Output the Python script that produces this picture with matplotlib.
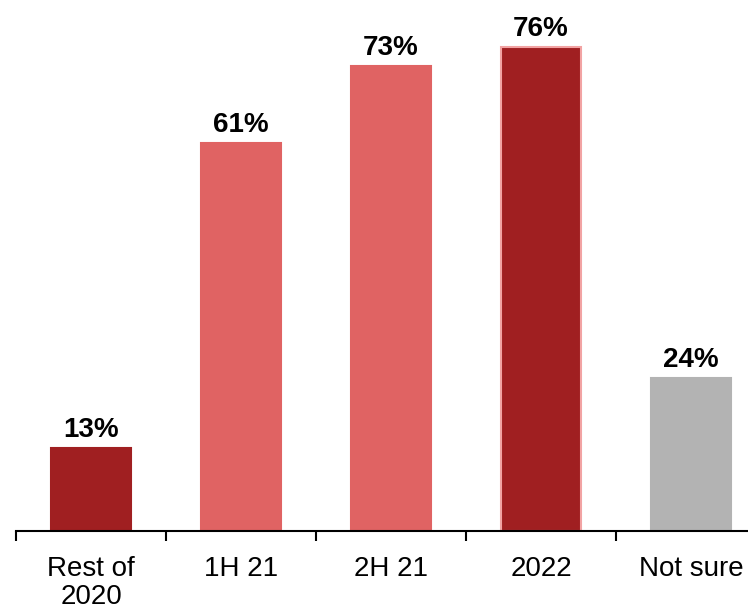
import matplotlib.pyplot as plt
import numpy as np

categories = ["Rest of\n2020", "1H 21", "2H 21", "2022", "Not sure"]
values = [13, 61, 73, 76, 24]
colors = ["#a01f21", "#e06363", "#e06363", "#a01f21", "#b3b3b3"]
edges = ["#a01f21", "#e06363", "#e06363", "#f2a3a3", "#b3b3b3"]

plt.rcParams['font.family'] = ['Liberation Sans', 'DejaVu Sans']

fig = plt.figure(figsize=(7.48, 6.10), dpi=100)
# axes runs off the right edge so the last category is cut like the source layout
ax = fig.add_axes([16 / 748, 79 / 610, 750 / 748, 531 / 610])

x = np.arange(len(categories))
bars = ax.bar(x, values, width=0.535, color=colors, edgecolor=edges, linewidth=1.5)

for xi, v in zip(x, values):
    ax.annotate(f"{v}%", (xi, v), xytext=(0, 3.5), textcoords="offset points",
                ha="center", va="bottom", fontsize=20, fontweight="bold")

ax.set_xlim(-0.5, len(categories) - 0.5)
ax.set_ylim(0, 83.4)

ax.set_xticks(x)
ax.set_xticklabels(categories, fontsize=20, linespacing=1.1)
ax.set_xticks(np.arange(-0.5, len(categories)), minor=True)
ax.tick_params(axis="x", which="major", length=0, pad=18)
ax.tick_params(axis="x", which="minor", length=7, width=1.5, color="black")

ax.set_yticks([])
for side in ["top", "right", "left"]:
    ax.spines[side].set_visible(False)
ax.spines["bottom"].set_linewidth(1.5)

fig.savefig("out.png", dpi=100)
